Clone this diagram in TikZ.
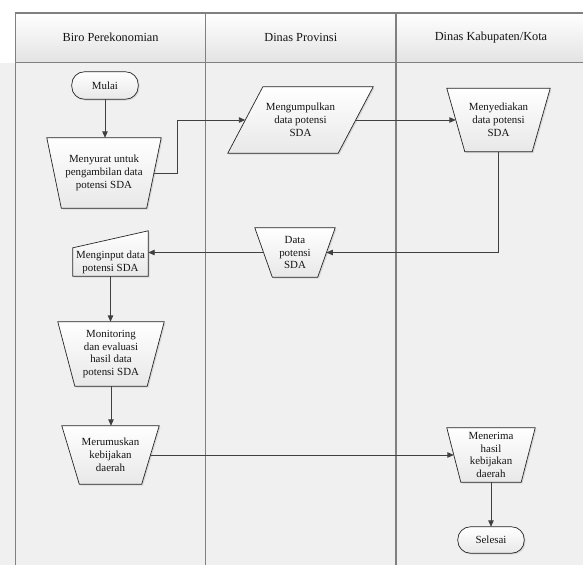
\documentclass[tikz,border=0pt]{standalone}
\usepackage{fontspec}
\setmainfont{Liberation Serif}
\usetikzlibrary{arrows.meta,shadows}
\pgfdeclarelayer{lanes}
\pgfdeclarelayer{shapes}
\pgfsetlayers{lanes,shapes,main}
\tikzset{
  txt/.style={align=center, inner sep=0pt, font=\fontsize{10.9}{12.8}\selectfont, text=black!92},
  hdr/.style={font=\fontsize{12.3}{14}\selectfont, text=black!92, inner sep=0pt},
  shp/.style={draw=black!85, line width=0.7pt, top color=white, bottom color=black!9,
    drop shadow={shadow xshift=1.3pt, shadow yshift=-1.3pt, opacity=0.22}},
  conn/.style={draw=black!75, line width=0.9pt},
  arr/.style={conn, -{Triangle[length=6.5pt,width=5.5pt]}},
  lane/.style={draw=black!50, line width=1.3pt}
}
\newcommand\mytrap[2]{\begin{pgfonlayer}{shapes}\path[shp] (#1.north west) -- (#1.north east) -- ([xshift=-#2pt]#1.south east) -- ([xshift=#2pt]#1.south west) -- cycle;\end{pgfonlayer}}
\newcommand\myterm[1]{\begin{pgfonlayer}{shapes}\path[shp, rounded corners=12.5pt] (#1.north west) rectangle (#1.south east);\end{pgfonlayer}}
\begin{document}
\begin{tikzpicture}[x=1pt,y=-1pt]
\useasboundingbox (0,0) rectangle (583,565);
\begin{pgfonlayer}{lanes}
  \fill[white] (0,0) rectangle (583,565);
  \fill[black!6] (0,62.5) rectangle (583,565);
  \shade[top color=white, bottom color=black!11] (15.6,13) rectangle (583,62.5);
  \draw[lane] (583,13) -- (15.6,13) -- (15.6,565);
  \draw[lane] (15.6,62.5) -- (583,62.5);
  \draw[lane] (205.6,13) -- (205.6,565);
  \draw[lane] (396,13) -- (396,565);
\end{pgfonlayer}
\node[hdr] (h1) at (110.6,37.5) {Biro Perekonomian};
\node[hdr] (h2) at (300.8,37.5) {Dinas Provinsi};
\node[hdr] (h3) at (491,37.5) {Dinas Kabupaten/Kota};

\node[txt, minimum width=66, minimum height=27] (mulai) at (105,85.5) {Mulai};
\myterm{mulai}
\node[txt, minimum width=114, minimum height=70] (menyurat) at (104,173) {Menyurat untuk\\pengambilan data\\potensi SDA};
\mytrap{menyurat}{14.5}
\node[txt, minimum width=145, minimum height=66] (kumpul) at (300.5,120) {Mengumpulkan\\data potensi\\SDA};
\begin{pgfonlayer}{shapes}
\path[shp] ([xshift=35pt]kumpul.north west) -- (kumpul.north east) -- ([xshift=-35pt]kumpul.south east) -- (kumpul.south west) -- cycle;
\end{pgfonlayer}
\node[txt, minimum width=103, minimum height=63] (sedia) at (498.5,120) {Menyediakan\\data potensi\\SDA};
\mytrap{sedia}{18}
\node[txt, minimum width=80, minimum height=49] (data) at (295,252.5) {Data\\potensi\\SDA};
\mytrap{data}{17.5}
\node[txt, minimum width=75, minimum height=28] (input) at (110.5,262) {Menginput data\\potensi SDA};
\begin{pgfonlayer}{shapes}
\path[shp] (input.south west) -- (input.north west) -- ([yshift=17pt]input.north east) -- (input.south east) -- cycle;
\end{pgfonlayer}
\node[txt, minimum width=106, minimum height=64] (monev) at (111,354) {Monitoring\\dan evaluasi\\hasil data\\potensi SDA};
\mytrap{monev}{17}
\node[txt, minimum width=97, minimum height=58] (rumus) at (110.5,455) {Merumuskan\\kebijakan\\daerah};
\mytrap{rumus}{17.5}
\node[txt, minimum width=88, minimum height=54] (terima) at (491,455) {Menerima\\hasil\\kebijakan\\daerah};
\mytrap{terima}{14}
\node[txt, minimum width=66, minimum height=26] (selesai) at (491,540) {Selesai};
\myterm{selesai}

\draw[arr] (mulai.south) -- (mulai.south |- menyurat.north);
\draw[arr] ([xshift=-7.25pt]menyurat.east) -- ++(23.25,0) |- ([xshift=17.5pt]kumpul.west);
\draw[arr] ([xshift=-17.5pt]kumpul.east) -- ([xshift=9pt]sedia.west);
\draw[arr] (sedia.south) |- ([xshift=-8.75pt]data.east);
\draw[arr] ([xshift=8.75pt]data.west) -- (input.east |- data.west);
\draw[arr] (input.south) -- (input.south |- monev.north);
\draw[arr] (monev.south) -- (monev.south |- rumus.north);
\draw[arr] ([xshift=-8.75pt]rumus.east) -- ([xshift=7pt]terima.west);
\draw[arr] (terima.south) -- (selesai.north);
\end{tikzpicture}
\end{document}
